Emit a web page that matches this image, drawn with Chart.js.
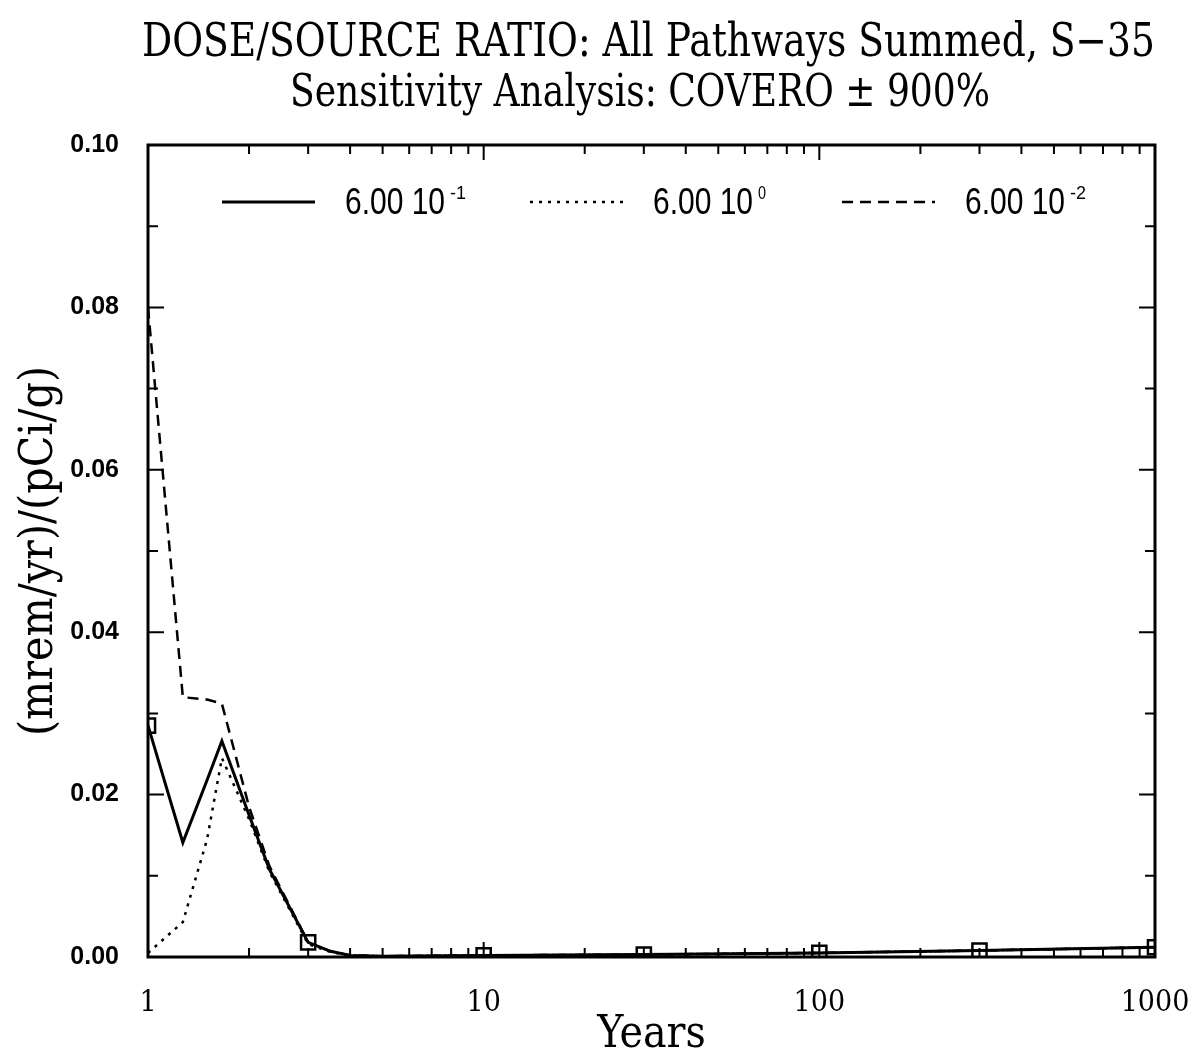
<!DOCTYPE html>
<html>
<head>
<meta charset="utf-8">
<script src="https://cdn.jsdelivr.net/npm/chart.js@4.4.0/dist/chart.umd.min.js"></script>
<style>
  html, body { margin: 0; padding: 0; background: #fff; }
</style>
</head>
<body>
<canvas id="doseChart" width="1192" height="1062"></canvas>
<script>
// years after start, and dose/source ratio for each COVERO value
const years   = [1, 1.27, 1.5, 1.66, 2, 2.3, 3, 3.5, 4, 5, 10, 30, 100, 300, 1000];
const dose6e1 = [0.0285, 0.0141, 0.0218, 0.0266, 0.0175, 0.0108, 0.0018, 0.0007, 0.0002, 0.0001, 0.0002, 0.0003, 0.0005, 0.0008, 0.0012];
const dose6e0 = [0.0005, 0.0043, 0.0145, 0.0245, 0.0170, 0.0105, 0.0016, 0.0006, 0.0002, 0.0001, 0.0002, 0.0003, 0.0005, 0.0008, 0.0012];
const dose6e2 = [0.0800, 0.0320, 0.0317, 0.0312, 0.0185, 0.0112, 0.0018, 0.0007, 0.0002, 0.0001, 0.0002, 0.0003, 0.0005, 0.0008, 0.0012];
const markerYears = [1, 3, 10, 30, 100, 300, 1000];

const legendBase = '6.00 10';
const legendExp  = ['-1', '0', '-2'];

const xTickValues = [1, 10, 100, 1000];
const yTickStep = 0.02;

const titleLines = ['DOSE/SOURCE RATIO: All Pathways Summed, S\u221235', 'Sensitivity Analysis: COVERO \u00b1 900%'];

const serif = '"DejaVu Serif Condensed", "DejaVu Serif", serif';
const sans = '"Liberation Sans", sans-serif';

function toPoints(vals) {
    return years.map((x, i) => ({ x: x, y: vals[i] }));
}

// text squeezed to a given width, the scan's fonts are narrow
function squeezedText(ctx, text, x, y, width) {
    const w = ctx.measureText(text).width;
    ctx.save();
    ctx.translate(x, y);
    ctx.scale(width / w, 1);
    ctx.fillText(text, 0, 0);
    ctx.restore();
}

// box frame with inward ticks on all four sides
const frameTicks = {
    id: 'frameTicks',
    afterDatasetsDraw(chart) {
        const { ctx, chartArea: a, scales: { x, y } } = chart;
        ctx.save();
        ctx.strokeStyle = '#000';
        ctx.lineWidth = 3;
        ctx.strokeRect(a.left, a.top, a.right - a.left, a.bottom - a.top);
        ctx.lineWidth = 2;
        ctx.beginPath();
        for (let i = 1; i < 10; i++) {
            const py = y.getPixelForValue(i * 0.01);
            const len = i % 2 === 0 ? 16 : 10;
            ctx.moveTo(a.left, py); ctx.lineTo(a.left + len, py);
            ctx.moveTo(a.right, py); ctx.lineTo(a.right - len, py);
        }
        [1, 10, 100].forEach(d => {
            for (let k = 1; k < 10; k++) {
                if (d === 1 && k === 1) continue;
                const px = x.getPixelForValue(k * d);
                const len = k === 1 ? 15 : 9;
                ctx.moveTo(px, a.bottom); ctx.lineTo(px, a.bottom - len);
                ctx.moveTo(px, a.top); ctx.lineTo(px, a.top + len);
            }
        });
        ctx.stroke();
        ctx.restore();
    }
};

// legend drawn inside the plot box
const insideLegend = {
    id: 'insideLegend',
    afterDraw(chart) {
        const { ctx, chartArea: a } = chart;
        const startX = [222, 530, 842];
        const ly = a.top + 57;
        chart.data.datasets.forEach((ds, i) => {
            const x0 = startX[i];
            ctx.save();
            ctx.strokeStyle = '#000';
            ctx.lineWidth = ds.borderWidth;
            ctx.setLineDash(ds.borderDash || []);
            ctx.beginPath();
            ctx.moveTo(x0, ly);
            ctx.lineTo(x0 + 93, ly);
            ctx.stroke();
            ctx.setLineDash([]);
            ctx.fillStyle = '#000';
            ctx.textBaseline = 'alphabetic';
            ctx.font = '36px ' + sans;
            squeezedText(ctx, legendBase, x0 + 123, ly + 12, 100);
            ctx.font = '18px ' + sans;
            squeezedText(ctx, legendExp[i], x0 + 228, ly - 3, legendExp[i].length * 8);
            ctx.restore();
        });
    }
};

const titles = {
    id: 'titles',
    afterDraw(chart) {
        const ctx = chart.ctx;
        ctx.save();
        ctx.fillStyle = '#000';
        ctx.textBaseline = 'alphabetic';
        ctx.font = '46px ' + serif;
        squeezedText(ctx, titleLines[0], 142, 56, 1013);
        ctx.font = '44px ' + serif;
        squeezedText(ctx, titleLines[1], 290, 106, 700);
        ctx.restore();
    }
};

const ctx = document.getElementById('doseChart').getContext('2d');
new Chart(ctx, {
    type: 'line',
    data: {
        datasets: [{
            label: legendBase + legendExp[0],
            data: toPoints(dose6e1),
            borderColor: '#000',
            borderWidth: 3,
            pointStyle: 'rect',
            pointRadius: years.map(v => markerYears.includes(v) ? 10 : 0),
            pointBackgroundColor: 'rgba(255,255,255,0)',
            pointBorderColor: '#000',
            pointBorderWidth: 2.5,
            tension: 0
        }, {
            label: legendBase + legendExp[1],
            data: toPoints(dose6e0),
            borderColor: '#000',
            borderWidth: 2.5,
            borderDash: [3, 6],
            pointRadius: 0,
            tension: 0
        }, {
            label: legendBase + legendExp[2],
            data: toPoints(dose6e2),
            borderColor: '#000',
            borderWidth: 2.5,
            borderDash: [11, 7],
            pointRadius: 0,
            tension: 0
        }]
    },
    options: {
        responsive: false,
        animation: false,
        devicePixelRatio: 1,
        layout: { padding: { top: 145, right: 37, left: 0, bottom: 0 } },
        plugins: {
            legend: { display: false },
            tooltip: { enabled: false },
            title: { display: false }
        },
        scales: {
            x: {
                type: 'logarithmic',
                min: 1,
                max: 1000,
                grid: { display: false },
                border: { display: false },
                afterBuildTicks: s => { s.ticks = xTickValues.map(v => ({ value: v })); },
                afterFit: s => { s.height = 105; s.paddingLeft = 0; s.paddingRight = 0; },
                ticks: {
                    autoSkip: false,
                    maxRotation: 0,
                    padding: 20,
                    color: '#000',
                    font: { family: serif, size: 30 },
                    callback: v => String(v)
                },
                title: {
                    display: true,
                    text: 'Years',
                    color: '#000',
                    font: { family: serif, size: 44 },
                    padding: { top: 0, bottom: 0 }
                }
            },
            y: {
                min: 0,
                max: 0.1,
                grid: { display: false },
                border: { display: false },
                afterFit: s => { s.width = 148; s.paddingTop = 0; s.paddingBottom = 0; },
                ticks: {
                    stepSize: yTickStep,
                    padding: 21,
                    color: '#000',
                    font: { family: sans, size: 25, weight: 'bold' },
                    callback: v => v.toFixed(2)
                },
                title: {
                    display: true,
                    text: '(mrem/yr)/(pCi/g)',
                    color: '#000',
                    font: { family: serif, size: 46 },
                    padding: { top: 12, bottom: 0 }
                }
            }
        }
    },
    plugins: [frameTicks, insideLegend, titles]
});
</script>
</body>
</html>
